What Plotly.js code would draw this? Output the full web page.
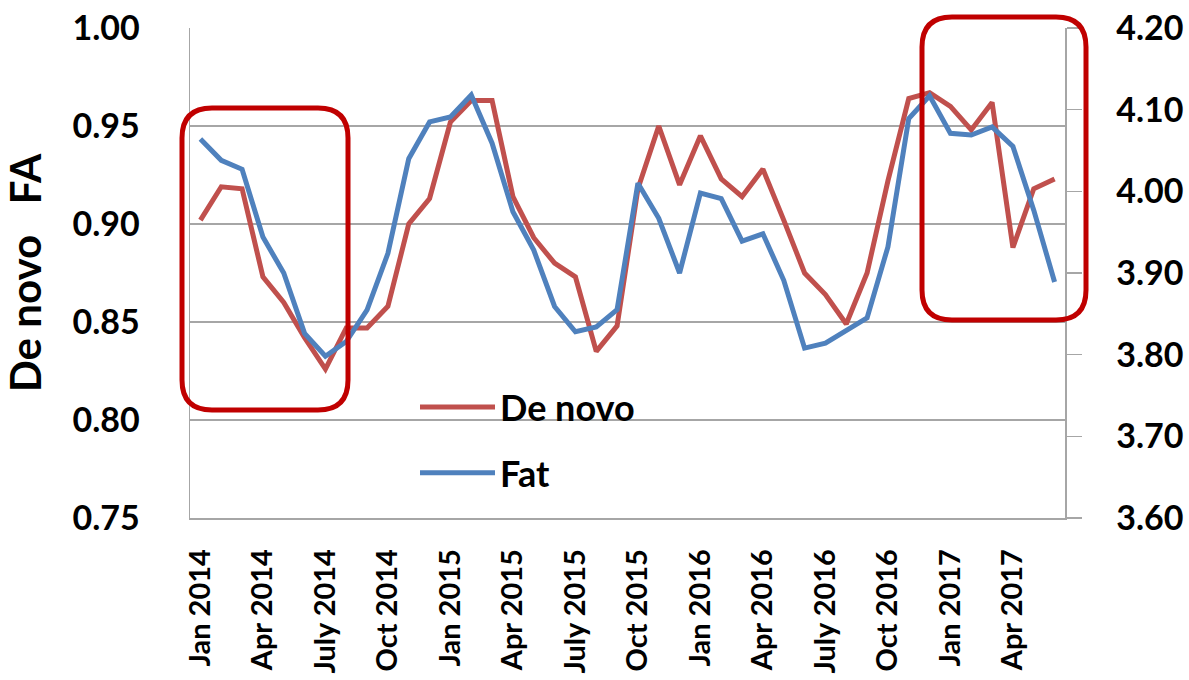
<!DOCTYPE html>
<html>
<head>
<meta charset="utf-8">
<script src="https://cdn.plot.ly/plotly-3.0.1.min.js"></script>
<style>html,body{margin:0;padding:0;background:#fff;}#chart{width:1189px;height:680px;}</style>
</head>
<body>
<div id="chart"></div>
<script>
const months = [
  "Jan 2014","Feb 2014","Mar 2014","Apr 2014","May 2014","Jun 2014","July 2014","Aug 2014","Sep 2014","Oct 2014","Nov 2014","Dec 2014",
  "Jan 2015","Feb 2015","Mar 2015","Apr 2015","May 2015","Jun 2015","July 2015","Aug 2015","Sep 2015","Oct 2015","Nov 2015","Dec 2015",
  "Jan 2016","Feb 2016","Mar 2016","Apr 2016","May 2016","Jun 2016","July 2016","Aug 2016","Sep 2016","Oct 2016","Nov 2016","Dec 2016",
  "Jan 2017","Feb 2017","Mar 2017","Apr 2017","May 2017","Jun 2017"
];
const tickLabels = ["Jan 2014","Apr 2014","July 2014","Oct 2014","Jan 2015","Apr 2015","July 2015","Oct 2015",
  "Jan 2016","Apr 2016","July 2016","Oct 2016","Jan 2017","Apr 2017"];
const deNovo = [0.902,0.919,0.918,0.873,0.860,0.842,0.826,0.847,0.847,0.858,0.900,0.913,
  0.952,0.963,0.963,0.914,0.893,0.880,0.873,0.835,0.848,0.918,0.950,0.920,
  0.945,0.923,0.914,0.928,0.902,0.875,0.864,0.849,0.875,0.922,0.964,0.967,
  0.960,0.948,0.962,0.888,0.918,0.923];
const fat = [4.064,4.038,4.027,3.944,3.900,3.826,3.798,3.816,3.855,3.924,4.040,4.085,
  4.091,4.118,4.059,3.975,3.928,3.859,3.828,3.834,3.855,4.010,3.967,3.900,
  3.998,3.991,3.939,3.948,3.891,3.808,3.814,3.830,3.845,3.932,4.089,4.117,
  4.071,4.069,4.079,4.055,3.977,3.889];

// plot area in pixels: x 190..1065, y 28..518
const L = 190, R = 1065, T = 28, B = 518;
const px = v => (v - L) / (R - L);
const py = v => (B - v) / (B - T);
function roundRect(x0, y0, x1, y1, r) {
  const a = px(x0), b = px(x1), c = py(y0), d = py(y1);
  const rx = r / (R - L), ry = r / (B - T);
  return `M${a + rx},${c} L${b - rx},${c} Q${b},${c} ${b},${c - ry} L${b},${d + ry} Q${b},${d} ${b - rx},${d} ` +
         `L${a + rx},${d} Q${a},${d} ${a},${d + ry} L${a},${c - ry} Q${a},${c} ${a + rx},${c} Z`;
}

const fontFam = 'Lato, "Open Sans", sans-serif';
const traces = [
  {x: months, y: deNovo, name: 'De novo', type: 'scatter', mode: 'lines', yaxis: 'y',
   line: {color: '#c0504d', width: 5}, legendgroup: 'a'},
  {x: months, y: fat, name: 'Fat', type: 'scatter', mode: 'lines', yaxis: 'y2',
   line: {color: '#4f81bd', width: 5}, legendgroup: 'b'}
];
const layout = {
  width: 1189, height: 680,
  margin: {l: L, r: 1189 - R, t: T, b: 680 - B, pad: 0},
  paper_bgcolor: '#fff', plot_bgcolor: '#fff',
  font: {family: fontFam, color: '#000', weight: 'bold'},
  xaxis: {
    type: 'category', categoryorder: 'array', categoryarray: months,
    range: [-0.5, months.length - 0.5],
    tickmode: 'array', tickvals: tickLabels, ticktext: tickLabels,
    tickangle: -90, tickfont: {size: 29, family: fontFam, weight: 'bold'},
    showgrid: false, showline: true, linecolor: '#a6a6a6', linewidth: 1.5,
    ticks: '', ticklabelstandoff: 18, zeroline: false, fixedrange: true
  },
  yaxis: {
    range: [0.75, 1.0], dtick: 0.05, tick0: 0.75, tickformat: '.2f',
    tickfont: {size: 34, family: fontFam, weight: 'bold'},
    showgrid: true, gridcolor: '#a6a6a6', gridwidth: 1.5,
    showline: true, linecolor: '#a6a6a6', linewidth: 1.5,
    ticks: '', ticklabelstandoff: 42, zeroline: false,
    title: {text: 'De novo\u00a0\u00a0\u00a0FA', font: {size: 42, family: fontFam, weight: 'bold'}, standoff: 22}
  },
  yaxis2: {
    overlaying: 'y', side: 'right', range: [3.6, 4.2], dtick: 0.1, tick0: 3.6, tickformat: '.2f',
    tickfont: {size: 34, family: fontFam, weight: 'bold'},
    showgrid: false, showline: true, linecolor: '#a6a6a6', linewidth: 1.5,
    ticks: 'outside', ticklen: 15, tickcolor: '#a6a6a6', tickwidth: 1.5,
    ticklabelstandoff: 28, zeroline: false
  },
  legend: {
    x: px(415), y: py(377), xanchor: 'left', yanchor: 'top',
    bgcolor: 'rgba(0,0,0,0)', font: {size: 36, family: fontFam, weight: 'bold'},
    tracegroupgap: 16, itemwidth: 75
  },
  showlegend: true,
  shapes: [
    {type: 'path', xref: 'paper', yref: 'paper', path: roundRect(182, 108, 348, 410, 30),
     line: {color: '#c00000', width: 5}},
    {type: 'path', xref: 'paper', yref: 'paper', path: roundRect(922, 17, 1086, 320, 30),
     line: {color: '#c00000', width: 5}}
  ]
};
Plotly.newPlot('chart', traces, layout, {displayModeBar: false, staticPlot: true});
</script>
</body>
</html>
